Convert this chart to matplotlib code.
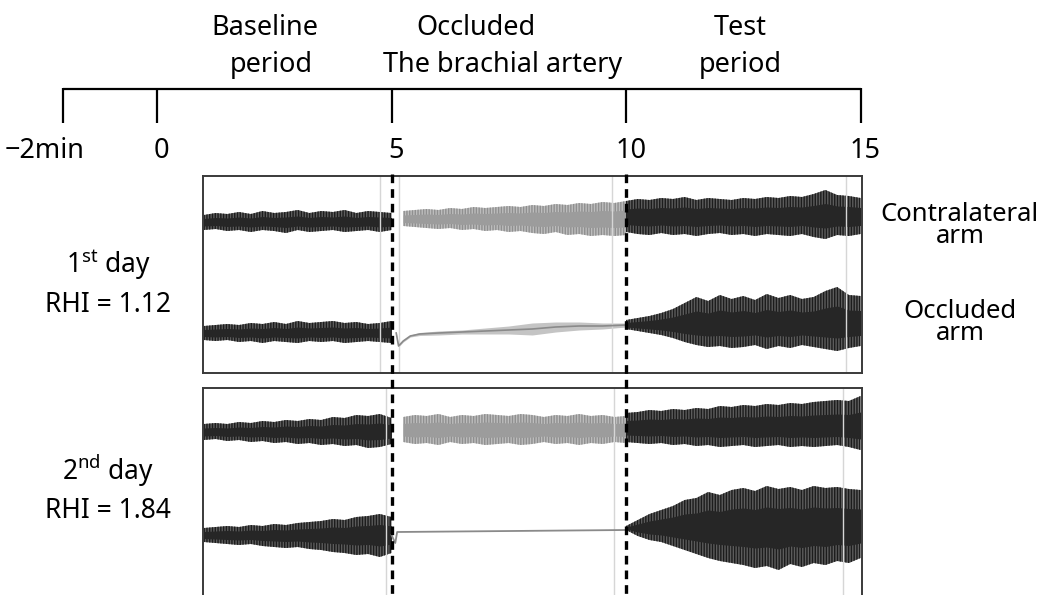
import numpy as np
import matplotlib.pyplot as plt

plt.rcParams['font.family'] = ['Noto Sans', 'DejaVu Sans']
plt.rcParams['font.weight'] = 'light'
plt.rcParams['mathtext.fontset'] = 'custom'
plt.rcParams['mathtext.rm'] = 'Noto Sans:light'
plt.rcParams['mathtext.it'] = 'Noto Sans:light'
plt.rcParams['hatch.linewidth'] = 1.0

# time line (minutes)
tick_min = [-2, 0, 5, 10, 15]
tick_labels = ['\u22122min', '0', '5', '10', '15']
period_labels = [('Baseline', 2.30, 35), ('period', 2.43, 72),
                 ('Occluded', 6.80, 35), ('The brachial artery', 7.36, 72),
                 ('Test', 12.43, 35), ('period', 12.43, 72)]
day_labels = [('1$^{\\mathrm{st}}$ day', 273), ('RHI = 1.12', 312),
              ('2$^{\\mathrm{nd}}$ day', 480), ('RHI = 1.84', 518)]
arm_labels = [('Contralateral\narm', 223), ('Occluded\narm', 320)]

# sample grids for each period (min)
t_base = np.arange(1.0, 5.01, 0.25)
t_occ = np.arange(5.25, 10.01, 0.25)
t_test = np.arange(10.0, 15.01, 0.25)

# envelope half-amplitudes (px above / below the trace centre)
# day 1, contralateral arm
d1c_base_up = [7, 9, 8, 10, 8, 11, 9, 10, 12, 9, 11, 10, 12, 9, 11, 10, 9]
d1c_base_dn = [8, 7, 9, 8, 10, 8, 9, 11, 8, 10, 9, 8, 10, 9, 8, 10, 8]
d1c_occ_up = [8, 9, 10, 9, 11, 10, 12, 11, 12, 13, 12, 14, 13, 15, 14, 16, 15, 17, 16, 18]
d1c_occ_dn = [7, 8, 9, 10, 9, 11, 10, 12, 11, 13, 12, 14, 15, 13, 16, 15, 17, 16, 17, 16]
d1c_test_up = [16, 18, 17, 19, 18, 20, 17, 19, 18, 17, 19, 18, 20, 19, 21, 20, 23, 27, 22, 21, 19]
d1c_test_dn = [15, 17, 18, 16, 18, 17, 19, 17, 16, 18, 17, 19, 17, 18, 19, 17, 20, 22, 18, 19, 17]
# day 1, occluded arm
d1o_base_up = [7, 8, 9, 8, 10, 9, 11, 9, 12, 10, 11, 12, 10, 11, 9, 10, 12]
d1o_base_dn = [7, 8, 7, 9, 8, 10, 8, 9, 10, 8, 9, 8, 10, 9, 8, 9, 10]
d1o_cuff_t = [5.1, 5.15, 5.25, 5.4, 5.6, 6.0, 6.5, 7.0, 7.5, 8.0, 8.5, 9.0, 9.5, 10.0]
d1o_cuff_y = [333, 346, 341, 336, 334, 333, 332, 331, 330, 329, 327, 326, 326, 325]
d1o_cuff_amp = [1, 1, 1, 1, 1.5, 2, 2, 3, 4, 6, 5, 4, 3, 2]
d1o_test_up = [5, 7, 9, 12, 16, 22, 28, 24, 30, 26, 29, 25, 31, 27, 30, 26, 28, 34, 38, 30, 29]
d1o_test_dn = [4, 6, 8, 10, 13, 17, 20, 22, 21, 23, 22, 20, 24, 21, 23, 20, 22, 24, 26, 23, 21]
# day 2, contralateral arm
d2c_base_up = [8, 9, 8, 10, 9, 11, 10, 12, 11, 13, 12, 15, 14, 17, 16, 18, 14]
d2c_base_dn = [8, 7, 9, 8, 10, 9, 11, 10, 12, 11, 13, 12, 14, 13, 16, 15, 12]
d2c_occ_up = [13, 15, 14, 16, 13, 15, 14, 16, 15, 14, 16, 15, 13, 15, 14, 16, 14, 15, 13, 14]
d2c_occ_dn = [12, 14, 13, 15, 12, 14, 13, 15, 14, 13, 15, 14, 12, 14, 13, 15, 13, 14, 12, 13]
d2c_test_up = [15, 16, 18, 17, 19, 18, 20, 19, 22, 21, 23, 22, 24, 23, 25, 24, 26, 27, 28, 27, 32]
d2c_test_dn = [14, 15, 16, 15, 17, 16, 18, 17, 19, 18, 17, 19, 18, 17, 19, 18, 19, 18, 17, 19, 22]
# day 2, occluded arm
d2o_base_up = [7, 8, 9, 8, 10, 9, 11, 10, 12, 13, 14, 16, 15, 18, 19, 21, 18]
d2o_base_dn = [7, 8, 9, 10, 9, 11, 12, 13, 12, 14, 15, 17, 18, 20, 19, 22, 18]
d2o_cuff_t = [5.0, 5.08, 5.12, 10.0]
d2o_cuff_y = [535, 543, 532, 530]
d2o_test_up = [2, 8, 14, 18, 22, 28, 30, 36, 33, 38, 40, 37, 42, 39, 41, 38, 42, 40, 41, 39, 38]
d2o_test_dn = [2, 8, 12, 14, 18, 22, 26, 30, 33, 35, 37, 40, 38, 42, 36, 39, 35, 37, 33, 35, 30]

W, H = 1048, 595


def band(ax, t, mid, up, dn, dark=True):
    up = np.asarray(up, float)
    dn = np.asarray(dn, float)
    if dark:
        face, hatch_c, core = '#5c5c5c', '#1c1c1c', '#262626'
    else:
        face, hatch_c, core = '#bdbdbd', '#8f8f8f', '#9c9c9c'
    ax.fill_between(t, mid - up, mid + dn, facecolor=face, edgecolor=hatch_c,
                    hatch='||||||', lw=0)
    ax.fill_between(t, mid - 0.5 * up, mid + 0.5 * dn, color=core, lw=0)


fig = plt.figure(figsize=(W / 100, H / 100), dpi=100)

ax1 = fig.add_axes([203 / W, 1 - 373 / H, (862 - 203) / W, (373 - 176) / H])
ax2 = fig.add_axes([203 / W, 1 - 605 / H, (862 - 203) / W, (605 - 388) / H])
ax1.set_ylim(373, 176)
ax2.set_ylim(605, 388)
for ax in (ax1, ax2):
    ax.set_xlim(0.981, 15.03)
    ax.set_xticks([])
    ax.set_yticks([])
    for s in ax.spines.values():
        s.set_color('#3a3a3a')
        s.set_linewidth(1.4)

# faint artefact lines on the recordings
ax1.vlines([4.75, 5.15, 9.70, 14.69], 176, 373, color='#d6d6d6', lw=1.0)
ax2.vlines([4.88, 9.74, 14.63], 388, 605, color='#d6d6d6', lw=1.0)

# day 1
band(ax1, t_base, 222, d1c_base_up, d1c_base_dn)
band(ax1, t_occ, 219, d1c_occ_up, d1c_occ_dn, dark=False)
band(ax1, t_test, 217, d1c_test_up, d1c_test_dn)
band(ax1, t_base, 333, d1o_base_up, d1o_base_dn)
cy = np.asarray(d1o_cuff_y, float)
ca = np.asarray(d1o_cuff_amp, float)
ax1.fill_between(d1o_cuff_t, cy - ca, cy + ca, color='#c4c4c4', lw=0)
ax1.plot(d1o_cuff_t, d1o_cuff_y, color='#8a8a8a', lw=1.2)
band(ax1, t_test, 325, d1o_test_up, d1o_test_dn)

# day 2
band(ax2, t_base, 432, d2c_base_up, d2c_base_dn)
band(ax2, t_occ, 430, d2c_occ_up, d2c_occ_dn, dark=False)
band(ax2, t_test, 428, d2c_test_up, d2c_test_dn)
band(ax2, t_base, 535, d2o_base_up, d2o_base_dn)
ax2.plot(d2o_cuff_t, d2o_cuff_y, color='#8a8a8a', lw=1.3)
band(ax2, t_test, 528, d2o_test_up, d2o_test_dn)

# overlay: time line, dashed markers, labels (x in minutes, y in pixels)
ov = fig.add_axes([0, 0, 1, 1], facecolor='none')
ov.set_xlim(-157 / 46.9, (W - 157) / 46.9)
ov.set_ylim(H, 0)
ov.axis('off')

ov.hlines(89, tick_min[0], tick_min[-1], color='black', lw=1.6)
ov.vlines(tick_min, 88, 123, color='black', lw=1.6)
for tm, lab in zip(tick_min, tick_labels):
    dx = -0.40 if tm < 0 else 0.1
    ov.text(tm + dx, 158, lab, ha='center', va='baseline', fontsize=19.5)

for lab, x, y in period_labels:
    ov.text(x, y, lab, ha='center', va='baseline', fontsize=19.5)

ov.vlines([5, 10], 174, H, color='black', lw=2.4, linestyles=(0, (2.6, 1.8)))

for lab, y in day_labels:
    ov.text(-1.04, y, lab, ha='center', va='baseline', fontsize=19)
for lab, y in arm_labels:
    ov.text(17.12, y - 21, lab, ha='center', va='top', fontsize=18.5,
            multialignment='center', linespacing=0.85)

fig.savefig('out.png', dpi=100)
